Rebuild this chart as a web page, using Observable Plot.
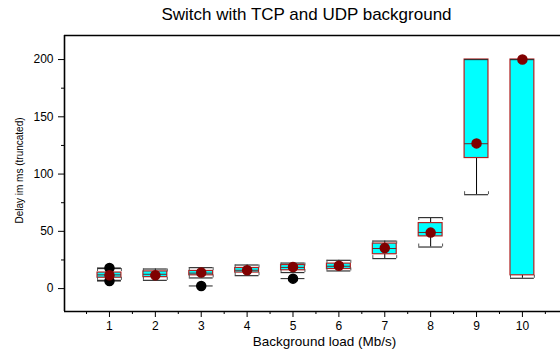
<!DOCTYPE html>
<html>
<head>
<meta charset="utf-8">
<script src="https://cdn.jsdelivr.net/npm/d3@7"></script>
<script src="https://cdn.jsdelivr.net/npm/@observablehq/plot@0.6"></script>
<style>
  html, body { margin: 0; padding: 0; background: #fff; }
  #chart svg { display: block; }
</style>
</head>
<body>
<div id="chart"></div>
<script>
const title = "Switch with TCP and UDP background";
const xLabel = "Background load (Mb/s)";
const yLabel = "Delay im ms (truncated)";

const loads     = [1, 2, 3, 4, 5, 6, 7, 8, 9, 10];
const q1        = [9.5, 10, 11.6, 14, 16, 17.1, 30, 45.6, 114, 11.6];
const q3        = [14, 15, 15.4, 18, 20.6, 21.8, 39.3, 57.2, 200, 200];
const medians   = [12, 12.5, 13.5, 16, 18.5, 19.5, 35, 49, 126.5, 200];
const means     = [11.6, 11.6, 14, 16, 18.8, 20, 35.4, 48.9, 126.8, 200];
const whiskLo   = [7.2, 7.2, 9.3, 11.3, 14, 15.4, 26.2, 36.3, 82, 9];
const whiskHi   = [17.5, 17.1, 18.3, 20.6, 22.3, 24.7, 41.5, 62, 200, 200];

const outlierLoads  = [1, 1, 3, 5];
const outlierValues = [18, 6.6, 2.3, 8.7];

const yTicks      = [0, 50, 100, 150, 200];
const yMinorTicks = [25, 75, 125, 175];
const xMinorTicks = [0.5, 1.5, 2.5, 3.5, 4.5, 5.5, 6.5, 7.5, 8.5, 9.5, 10.5];

const boxes = loads.map((load, i) => ({
  load, q1: q1[i], q3: q3[i], median: medians[i], mean: means[i],
  lo: whiskLo[i], hi: whiskHi[i]
}));
const outliers = outlierLoads.map((load, i) => ({load, value: outlierValues[i]}));

const hw = 0.26;      // half box width in x units
const capTick = 2.6;  // small bracket ticks in y units
const xMin = 0.02, xMax = 10.83, yMin = -20, yMax = 221;

const chart = Plot.plot({
  width: 560,
  height: 352,
  marginLeft: 64,
  marginRight: 0,
  marginTop: 35,
  marginBottom: 41,
  style: {fontFamily: "Liberation Sans, Arial, sans-serif", fontSize: "12px", color: "black", background: "white"},
  x: {type: "linear", domain: [xMin, xMax], axis: null},
  y: {type: "linear", domain: [yMin, yMax], axis: null},
  marks: [
    // axes
    Plot.axisY({ticks: yTicks, tickSize: 6, tickPadding: 5, fontSize: 12, label: null, stroke: "black"}),
    Plot.axisY({ticks: yMinorTicks, tickSize: 3, tickFormat: () => "", label: null}),
    Plot.axisX({ticks: loads, tickSize: 6, tickPadding: 4, fontSize: 12, label: null}),
    Plot.axisX({ticks: xMinorTicks, tickSize: 3, tickFormat: () => "", label: null}),
    // frame lines
    Plot.ruleX([xMin], {stroke: "black", strokeWidth: 1.6}),
    Plot.ruleY([yMin], {stroke: "black", strokeWidth: 1.6}),
    Plot.ruleY([yMax], {stroke: "black", strokeWidth: 1.6}),
    // whiskers
    Plot.ruleX(boxes, {x: "load", y1: "q1", y2: "lo", stroke: "black", strokeWidth: 1}),
    Plot.ruleX(boxes, {x: "load", y1: "q3", y2: "hi", stroke: "black", strokeWidth: 1}),
    // boxes
    Plot.rect(boxes, {x1: d => d.load - hw, x2: d => d.load + hw, y1: "q1", y2: "q3",
      fill: "#00ffff", stroke: "#b22222", strokeWidth: 1.2}),
    // medians
    Plot.ruleY(boxes, {y: "median", x1: d => d.load - hw, x2: d => d.load + hw, stroke: "#6b2a2a", strokeWidth: 1}),
    // caps (bracket shape)
    Plot.ruleY(boxes, {y: "lo", x1: d => d.load - hw, x2: d => d.load + hw, stroke: "#333", strokeWidth: 1.2}),
    Plot.ruleY(boxes, {y: "hi", x1: d => d.load - hw, x2: d => d.load + hw, stroke: "#333", strokeWidth: 1.2}),
    Plot.ruleX(boxes, {x: d => d.load - hw, y1: "lo", y2: d => d.lo + capTick, stroke: "#555"}),
    Plot.ruleX(boxes, {x: d => d.load + hw, y1: "lo", y2: d => d.lo + capTick, stroke: "#555"}),
    Plot.ruleX(boxes.filter(d => d.hi > d.q3), {x: d => d.load - hw, y1: "hi", y2: d => d.hi - capTick, stroke: "#555"}),
    Plot.ruleX(boxes.filter(d => d.hi > d.q3), {x: d => d.load + hw, y1: "hi", y2: d => d.hi - capTick, stroke: "#555"}),
    // outliers
    Plot.ruleY(outliers, {y: "value", x1: d => d.load - hw, x2: d => d.load + hw, stroke: "#222", strokeWidth: 1}),
    Plot.dot(outliers, {x: "load", y: "value", r: 4.5, fill: "black", stroke: "black"}),
    // means
    Plot.dot(boxes, {x: "load", y: "mean", r: 4.5, fill: "#800000", stroke: "#800000"}),
    // labels
    Plot.text([title], {frameAnchor: "top", dx: -6, dy: -28, fontSize: 17, textAnchor: "middle", lineAnchor: "top", fill: "black"}),
    Plot.text([xLabel], {frameAnchor: "bottom", dx: 12, dy: 25, fontSize: 13.5, lineAnchor: "top", fill: "black"}),
    Plot.text([yLabel], {frameAnchor: "left", dx: -45, dy: -3, rotate: -90, fontSize: 10, textAnchor: "middle", fill: "black"})
  ]
});
document.getElementById("chart").appendChild(chart);
</script>
</body>
</html>
